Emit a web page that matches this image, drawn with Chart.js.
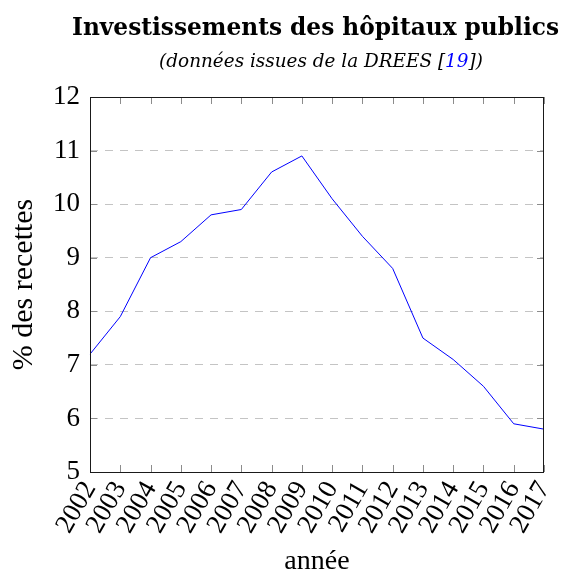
<!DOCTYPE html>
<html>
<head>
<meta charset="utf-8">
<script src="https://cdn.jsdelivr.net/npm/chart.js@4"></script>
<style>
  html, body { margin: 0; padding: 0; background: #ffffff; }
  #wrap { width: 564px; height: 574px; }
</style>
</head>
<body>
<div id="wrap"><canvas id="c" width="564" height="574"></canvas></div>
<script>
const years = ['2002','2003','2004','2005','2006','2007','2008','2009','2010','2011','2012','2013','2014','2015','2016','2017'];
const investPct = [7.2, 7.9, 9.0, 9.3, 9.8, 9.9, 10.6, 10.9, 10.1, 9.4, 8.8, 7.5, 7.1, 6.6, 5.9, 5.8];
const yMin = 5;
const yMax = 12;
const titleText = 'Investissements des hôpitaux publics';
const subtitleParts = ['(données issues de la DREES [', '19', '])'];
const xTitle = 'année';
const yTitle = '% des recettes';

const serif = '"Liberation Serif", "Times New Roman", serif';

function fitFont(ctx, style, family, text, target) {
  ctx.font = style + ' 20px ' + family;
  const w = ctx.measureText(text).width;
  const size = 20 * target / w;
  return style + ' ' + size.toFixed(2) + 'px ' + family;
}

const frameAndTicks = {
  id: 'frameAndTicks',
  afterDatasetsDraw(chart) {
    const ctx = chart.ctx;
    const a = chart.chartArea;
    const xs = chart.scales.x, ys = chart.scales.y;
    const L = 7;
    ctx.save();
    ctx.strokeStyle = '#8c8c8c';
    ctx.lineWidth = 1;
    ctx.beginPath();
    xs.ticks.forEach((t, i) => {
      const px = Math.round(xs.getPixelForTick(i)) + 0.5;
      ctx.moveTo(px, a.top); ctx.lineTo(px, a.top + L);
      ctx.moveTo(px, a.bottom); ctx.lineTo(px, a.bottom - L);
    });
    ys.ticks.forEach(t => {
      const py = Math.round(ys.getPixelForValue(t.value)) + 0.5;
      ctx.moveTo(a.left, py); ctx.lineTo(a.left + L, py);
      ctx.moveTo(a.right, py); ctx.lineTo(a.right - L, py);
    });
    ctx.stroke();
    ctx.strokeStyle = '#1a1a1a';
    ctx.strokeRect(Math.round(a.left) + 0.5, Math.round(a.top) + 0.5,
                   Math.round(a.right - a.left) - 1, Math.round(a.bottom - a.top));
    ctx.restore();
  }
};

const headingPlugin = {
  id: 'headingText',
  afterDraw(chart) {
    const ctx = chart.ctx;
    const a = chart.chartArea;
    const cx = (a.left + a.right) / 2;
    ctx.save();
    ctx.textBaseline = 'alphabetic';
    ctx.textAlign = 'left';
    // main title
    ctx.font = fitFont(ctx, 'bold', '"DejaVu Serif"', titleText, 487);
    const tw = ctx.measureText(titleText).width;
    ctx.fillStyle = '#000000';
    ctx.fillText(titleText, cx - 1.5 - tw / 2, 35);
    // subtitle with coloured reference
    ctx.font = fitFont(ctx, 'italic', '"DejaVu Serif"', subtitleParts.join(''), 324);
    const colors = ['#000000', '#0000ff', '#000000'];
    const widths = subtitleParts.map(s => ctx.measureText(s).width);
    const total = widths.reduce((p, c) => p + c, 0);
    let x = cx + 4 - total / 2;
    subtitleParts.forEach((s, i) => {
      ctx.fillStyle = colors[i];
      ctx.fillText(s, x, 67);
      x += widths[i];
    });
    ctx.restore();
  }
};

new Chart(document.getElementById('c'), {
  type: 'line',
  data: {
    labels: years,
    datasets: [{
      data: investPct,
      borderColor: '#0000ff',
      borderWidth: 1,
      pointRadius: 0,
      tension: 0,
      fill: false
    }]
  },
  options: {
    responsive: false,
    animation: false,
    devicePixelRatio: 1,
    layout: { padding: { left: 0, right: 20, top: 97, bottom: 0 } },
    plugins: {
      legend: { display: false },
      tooltip: { enabled: false },
      title: { display: false }
    },
    scales: {
      x: {
        type: 'category',
        offset: false,
        grid: { display: false, drawTicks: false },
        border: { display: false },
        ticks: {
          autoSkip: false,
          minRotation: 60,
          maxRotation: 60,
          padding: 4,
          color: '#000000',
          font: { family: serif, size: 27 }
        },
        title: {
          display: true,
          text: xTitle,
          color: '#000000',
          font: { family: serif, size: 28, lineHeight: 0.9 },
          padding: { top: 0, bottom: 0 }
        },
        afterFit(scale) {
          scale.height = 102;
          scale.paddingLeft = 0;
          scale.paddingRight = 0;
        }
      },
      y: {
        min: yMin,
        max: yMax,
        ticks: {
          stepSize: 1,
          padding: 10,
          color: '#000000',
          font: { family: serif, size: 27 }
        },
        grid: {
          drawTicks: false,
          lineWidth: 1,
          color: (c) => (c.tick && (c.tick.value === yMin || c.tick.value === yMax)) ? 'rgba(0,0,0,0)' : '#c4c4c4'
        },
        border: { display: false, dash: [8, 7] },
        title: {
          display: true,
          text: yTitle,
          color: '#000000',
          font: { family: serif, size: 30, lineHeight: 1.2 },
          padding: { top: 6, bottom: 0 }
        },
        afterFit(scale) {
          scale.width = 90;
          scale.paddingTop = 0;
          scale.paddingBottom = 0;
        }
      }
    }
  },
  plugins: [frameAndTicks, headingPlugin]
});
</script>
</body>
</html>
